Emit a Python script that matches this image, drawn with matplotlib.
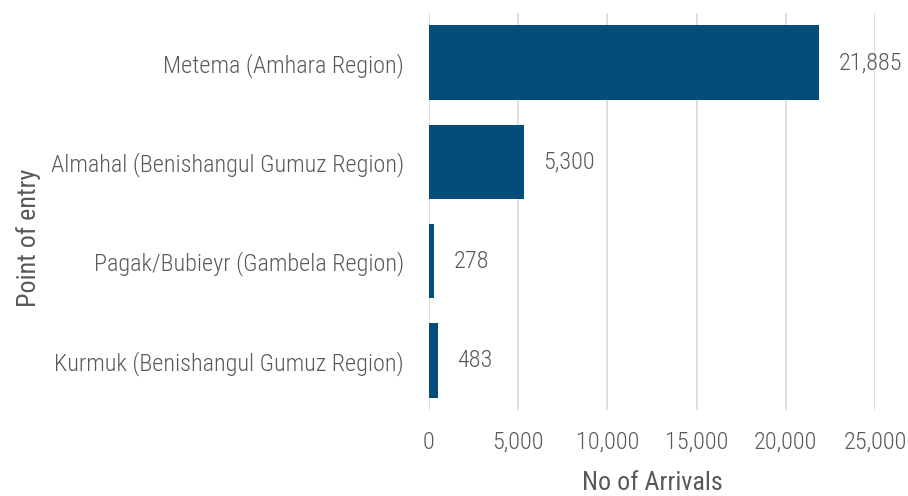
import matplotlib
matplotlib.use("Agg")
import matplotlib.pyplot as plt
from matplotlib.ticker import FuncFormatter
from matplotlib import font_manager

# data
entries = [
    "Metema (Amhara Region)",
    "Almahal (Benishangul Gumuz Region)",
    "Pagak/Bubieyr (Gambela Region)",
    "Kurmuk (Benishangul Gumuz Region)",
]
arrivals = [21885, 5300, 278, 483]
x_ticks = [0, 5000, 10000, 15000, 20000, 25000]

names = {f.name for f in font_manager.fontManager.ttflist}
family = "Roboto Condensed" if "Roboto Condensed" in names else "Roboto"
plt.rcParams["font.family"] = [family, "DejaVu Sans"]
plt.rcParams["font.weight"] = "light"

text_color = "#595959"
bar_color = "#044c7a"

fig = plt.figure(figsize=(9.08, 4.96), dpi=100)
ax = fig.add_axes([429 / 908, 1 - 410 / 496, (875 - 429) / 908, (410 - 13) / 496])

y = list(range(len(entries)))
ax.barh(y, arrivals, height=0.75, color=bar_color, zorder=3)

for yi, v in zip(y, arrivals):
    ax.annotate(f"{v:,}", xy=(v, yi), xytext=(14, 0), textcoords="offset points",
                va="center", ha="left", fontsize=17.5, color=text_color,
                fontweight="light", annotation_clip=False)

ax.set_ylim(3.5, -0.5)
ax.set_xlim(0, 25000)
ax.set_yticks(y)
ax.set_yticklabels(entries)
ax.set_xticks(x_ticks)
ax.xaxis.set_major_formatter(FuncFormatter(lambda v, p: f"{int(v):,}"))

ax.grid(axis="x", color="#d9d9d9", linewidth=1.2, zorder=0)
ax.grid(axis="y", visible=False)
for s in ax.spines.values():
    s.set_visible(False)

ax.tick_params(axis="both", length=0, labelsize=17.5, labelcolor=text_color)
ax.tick_params(axis="y", pad=18)
ax.tick_params(axis="x", pad=15)

ax.set_xlabel("No of Arrivals", fontsize=18.7, color=text_color, labelpad=12)
ax.set_ylabel("Point of entry", fontsize=18.7, color=text_color)
ax.yaxis.set_label_coords(-0.87, 0.433)

fig.savefig("out.png", dpi=100)
